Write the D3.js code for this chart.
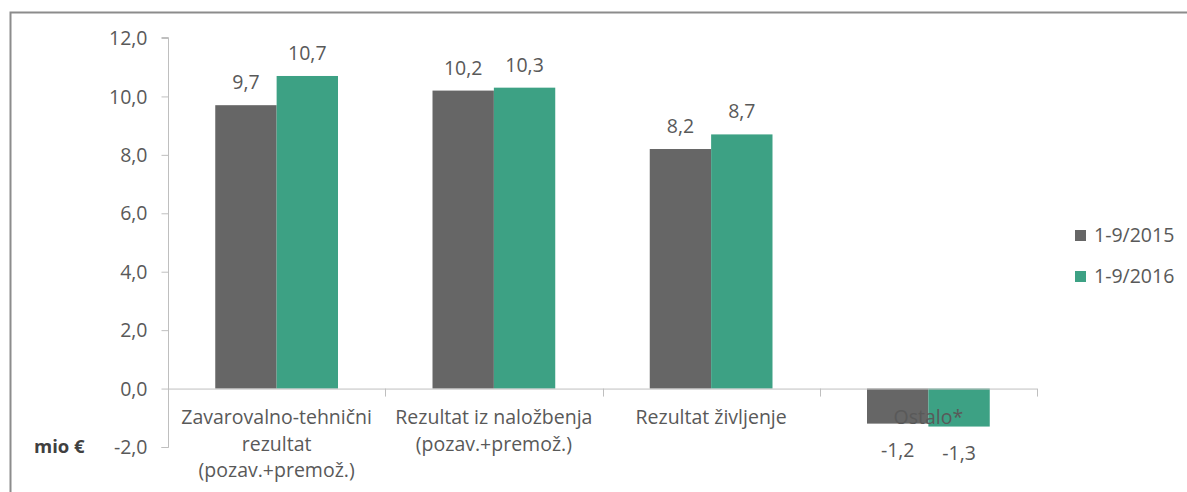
<!DOCTYPE html>
<html>
<head>
<meta charset="utf-8">
<script src="https://cdn.jsdelivr.net/npm/d3@7"></script>
<style>
  body { margin:0; background:#fff; }
  svg text { font-family: "Open Sans", Lato, sans-serif; fill:#595959; }
</style>
</head>
<body>
<svg id="chart" width="1187" height="492"></svg>
<script>
	// chart data
	var categories = [
		['Zavarovalno-tehnični', 'rezultat', '(pozav.+premož.)'],
		['Rezultat iz naložbenja', '(pozav.+premož.)'],
		['Rezultat življenje'],
		['Ostalo*']
	];
	var seriesNames = ['1-9/2015', '1-9/2016'];
	var values2015 = [9.7, 10.2, 8.2, -1.2];
	var values2016 = [10.7, 10.3, 8.7, -1.3];
	var yTicks = [-2, 0, 2, 4, 6, 8, 10, 12];
	var colors = ['#666666', '#3da184'];

	var FS = '19.5px';
	var svg = d3.select('#chart');
	var fmt = function(v) { return d3.format('.1f')(v).replace('.', ',').replace('−', '-'); };

	// outer frame
	svg.append('path')
		.attr('d', 'M10.5,1000 L10.5,12.5 L1200,12.5')
		.attr('fill', 'none').attr('stroke', '#8c8c8c').attr('stroke-width', 2);

	var y = d3.scaleLinear().domain([-2, 12]).range([447, 38]);
	var catIdx = categories.map(function(d, i) { return i; });
	var x0 = d3.scaleBand().domain(catIdx).range([168, 1037]);
	var x1 = d3.scaleBand().domain([0, 1]).range([0, x0.bandwidth()]).paddingOuter(0.77);

	// y axis
	var yAxis = d3.axisLeft(y).tickValues(yTicks).tickSize(7).tickPadding(14).tickFormat(fmt);
	var gy = svg.append('g').attr('transform', 'translate(168.5,0)').call(yAxis);
	gy.select('.domain').attr('stroke', '#bfbfbf').attr('d', 'M-7,' + (y(-2)+0.5) + 'H0V' + (y(12)-0.5) + 'H-7');
	gy.selectAll('.tick line').attr('stroke', '#bfbfbf');
	gy.selectAll('.tick text').style('font-size', FS).attr('fill', '#595959').attr('dy', '0.34em');

	// bars
	var rows = catIdx.map(function(i) { return [values2015[i], values2016[i]]; });
	var groups = svg.append('g').selectAll('g').data(rows).enter().append('g')
		.attr('transform', function(d, i) { return 'translate(' + x0(i) + ',0)'; });
	groups.selectAll('rect').data(function(d) { return d; }).enter().append('rect')
		.attr('x', function(d, j) { return x1(j); })
		.attr('width', x1.bandwidth())
		.attr('y', function(d) { return y(Math.max(0, d)); })
		.attr('height', function(d) { return Math.abs(y(d) - y(0)); })
		.attr('fill', function(d, j) { return colors[j]; });

	// x axis line and ticks
	var xTickPos = catIdx.map(function(i) { return x0(i); }).concat([x0(catIdx.length - 1) + x0.bandwidth()]);
	svg.append('line').attr('x1', 168).attr('x2', 1037).attr('y1', y(0) + 0.5).attr('y2', y(0) + 0.5)
		.attr('stroke', '#bfbfbf');
	svg.selectAll('line.xt').data(xTickPos).enter().append('line').attr('class', 'xt')
		.attr('x1', function(d) { return Math.round(d) + 0.5; }).attr('x2', function(d) { return Math.round(d) + 0.5; })
		.attr('y1', y(0)).attr('y2', y(0) + 8).attr('stroke', '#bfbfbf');

	// value labels
	groups.selectAll('text.val').data(function(d) { return d; }).enter().append('text').attr('class', 'val')
		.attr('x', function(d, j) { return x1(j) + x1.bandwidth() / 2; })
		.attr('y', function(d) { return d >= 0 ? y(d) - 16 : y(d) + 33; })
		.attr('text-anchor', 'middle').style('font-size', FS)
		.text(fmt);

	// category labels
	var cl = svg.append('g').selectAll('text').data(categories).enter().append('text')
		.attr('text-anchor', 'middle').style('font-size', FS)
		.attr('transform', function(d, i) { return 'translate(' + (x0(i) + x0.bandwidth() / 2) + ',424)'; });
	cl.selectAll('tspan').data(function(d) { return d; }).enter().append('tspan')
		.attr('x', 0).attr('y', function(d, k) { return k * 26.5; })
		.text(function(d) { return d; });

	// unit label
	svg.append('text').attr('x', 34).attr('y', 453).style('font-size', '18.5px').style('font-weight', 'bold')
		.style('fill', '#404040').text('mio €');

	// legend
	var lg = svg.append('g').selectAll('g').data(seriesNames).enter().append('g')
		.attr('transform', function(d, i) { return 'translate(1075,' + (230 + i * 41) + ')'; });
	lg.append('rect').attr('width', 11).attr('height', 11).attr('fill', function(d, i) { return colors[i]; });
	lg.append('text').attr('x', 19).attr('y', 12).style('font-size', FS).text(function(d) { return d; });
</script>
</body>
</html>
